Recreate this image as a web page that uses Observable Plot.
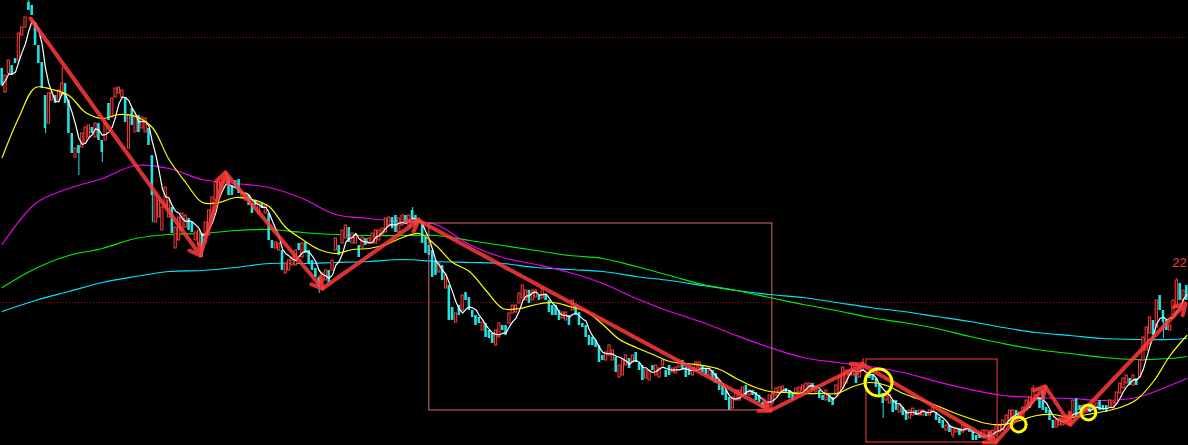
<!DOCTYPE html>
<html><head><meta charset="utf-8">
<script src="https://cdn.jsdelivr.net/npm/d3@7"></script>
<script src="https://cdn.jsdelivr.net/npm/@observablehq/plot@0.6"></script>
<style>html,body{margin:0;padding:0;background:#000;overflow:hidden;}#chart svg{display:block}</style>
</head><body><div id="chart"></div>
<script>
// Daily candles (price units), left to right
const openPrices = [43.2,40.8,42.7,43.5,44.2,44.0,46.5,47.3,49.8,49.5,47.8,45.5,43.8,40.5,37.7,40.0,40.5,40.0,40.5,41.7,
40.0,36.7,34.3,35.5,35.3,35.7,36.3,37.3,36.3,37.7,36.0,36.0,39.7,38.3,40.3,40.7,40.3,40.3,35.2,39.2,
36.8,38.5,37.2,36.8,37.2,34.5,27.8,28.3,27.0,29.3,28.3,29.3,25.2,26.0,27.0,27.3,28.2,27.8,26.0,25.5,
26.7,25.8,26.5,28.3,30.0,30.3,31.3,31.7,32.3,31.5,32.0,32.1,30.2,30.0,30.5,29.7,30.0,28.7,29.7,28.7,
28.7,26.0,25.2,25.0,25.0,22.7,23.0,23.5,23.5,25.7,24.3,25.8,25.0,24.0,23.2,22.3,21.8,22.0,23.0,23.0,
25.0,25.5,25.7,26.2,27.3,25.7,25.7,25.5,25.3,26.2,25.7,25.7,25.7,26.0,26.5,26.8,27.5,28.3,28.5,26.8,
27.5,28.5,27.5,29.0,28.5,27.8,27.7,26.3,25.5,25.0,24.0,22.8,23.5,21.2,21.5,19.3,17.8,19.5,19.0,20.8,
20.3,19.0,18.5,18.3,17.0,17.7,17.0,16.7,15.5,16.3,17.5,17.5,17.7,18.7,18.8,19.7,20.2,20.0,21.0,20.0,
20.3,20.5,20.2,20.5,20.0,19.5,19.5,19.0,18.2,18.0,18.5,19.0,19.5,18.8,17.7,17.5,16.5,16.3,16.0,15.5,
14.5,14.0,14.5,14.0,14.3,12.3,12.5,13.5,14.2,13.8,14.8,13.7,13.5,12.2,12.0,13.5,12.5,12.3,13.5,13.0,
13.5,12.8,12.7,13.3,14.0,13.3,13.2,12.5,13.0,13.2,13.5,13.2,12.5,13.0,12.7,12.0,11.5,11.0,10.3,9.2,
10.0,10.0,10.5,11.5,10.5,11.0,10.8,10.5,9.8,9.0,9.5,9.7,10.5,10.7,10.8,11.2,11.0,10.7,10.5,10.8,
11.0,11.0,11.2,11.7,10.8,11.0,10.5,10.0,10.5,10.3,10.5,10.7,11.3,11.7,12.5,12.5,12.7,12.3,13.0,12.5,
12.8,12.6,12.2,11.7,10.7,10.0,9.7,10.0,10.0,8.8,9.3,9.0,8.2,8.5,9.0,8.5,8.5,8.8,8.5,8.8,
8.8,8.3,8.0,7.0,7.5,6.5,6.8,7.2,6.8,7.0,7.3,7.0,6.5,6.8,6.2,6.5,6.8,6.2,6.5,6.8,
7.0,7.5,8.0,8.2,9.0,8.2,8.3,9.0,9.3,9.7,10.0,10.2,11.0,9.3,9.0,8.0,7.3,7.5,7.5,7.8,
7.5,8.3,10.2,9.5,8.8,8.8,9.5,9.0,9.2,10.0,9.5,9.5,9.3,9.2,9.7,10.7,11.2,11.7,12.2,11.5,
12.2,12.3,14.0,15.0,16.7,18.0,17.3,20.5,19.0,18.0,17.0,18.5,19.3,21.7,20.0,21.5];
const closePrices = [41.5,42.5,44.0,42.5,43.7,46.7,47.3,48.3,49.0,48.5,45.5,43.7,41.2,37.2,40.7,40.8,39.7,41.0,41.7,39.7,
36.7,34.7,35.2,34.7,36.7,37.3,37.5,36.7,37.7,36.0,34.8,37.7,38.0,40.2,41.2,41.3,41.0,37.8,38.5,37.5,
38.5,36.8,38.3,38.2,35.5,30.5,30.7,30.0,29.3,31.3,30.0,26.7,27.3,28.3,28.7,28.5,27.0,26.8,26.8,27.0,
24.8,27.8,29.0,30.3,31.8,31.8,31.8,32.3,30.5,30.5,31.3,30.7,30.7,30.5,29.5,28.7,29.5,29.7,29.2,29.5,
26.0,25.2,25.8,25.7,23.0,23.7,24.0,24.3,25.0,25.0,25.7,24.7,23.7,23.0,22.3,21.3,22.7,23.0,21.8,24.0,
26.2,24.5,27.0,27.5,25.8,26.7,26.5,24.3,26.3,25.5,26.2,26.7,27.0,27.0,27.2,28.2,28.3,27.2,26.8,28.2,
28.5,27.8,28.5,28.2,27.5,28.2,25.7,24.7,24.5,22.3,22.5,23.7,22.0,22.5,18.0,18.0,18.7,18.5,20.5,20.0,
19.0,18.3,17.5,17.7,17.8,16.3,16.2,15.7,17.0,17.7,17.0,16.5,18.7,19.5,19.5,20.7,21.5,21.0,19.7,21.0,
21.0,20.0,21.2,20.0,18.8,18.5,18.5,18.0,18.8,18.8,17.5,20.0,18.5,17.5,17.3,16.3,15.5,15.5,15.3,13.8,
14.0,14.8,15.5,15.0,12.8,13.5,14.0,14.5,13.2,14.5,13.8,13.0,12.0,13.0,13.0,13.0,13.5,13.2,14.0,12.3,
12.5,13.2,13.3,14.0,13.0,12.3,12.5,13.2,13.8,13.8,12.8,12.5,13.0,12.0,11.7,11.0,10.5,10.0,9.0,10.3,
11.0,11.0,11.3,10.5,11.0,10.5,10.0,9.8,9.2,9.7,10.5,10.7,11.2,11.3,11.4,10.8,10.2,10.0,11.2,11.3,
11.5,11.7,11.7,11.0,11.2,10.2,10.0,11.0,9.8,9.5,11.5,12.3,13.3,13.0,13.0,13.5,11.7,13.3,13.8,11.8,
12.2,12.0,11.3,10.5,9.7,10.5,10.5,8.8,9.0,9.5,8.5,8.0,9.0,9.2,8.5,9.0,9.0,8.4,9.0,9.3,
8.0,7.7,7.2,7.5,6.8,7.3,7.2,6.5,7.5,7.5,6.8,6.0,6.0,6.2,7.0,7.0,6.0,7.0,7.5,7.5,
8.0,8.5,9.0,9.0,8.5,8.8,9.3,10.0,10.3,11.2,10.5,9.2,9.0,8.7,8.0,7.2,8.0,8.0,8.2,8.5,
8.5,10.0,8.3,9.0,9.5,9.2,8.8,9.5,9.7,9.0,9.0,8.8,10.0,9.8,10.8,11.7,12.2,12.5,11.5,12.5,
11.5,14.0,16.3,17.3,18.3,16.5,20.0,19.0,17.8,17.0,17.5,20.0,22.0,20.0,21.0,20.0];
// Long shadows that stand out
const wickIdx  = [8, 13, 18, 23, 30, 45, 60, 67, 95, 123, 229, 258, 264, 285, 309, 348, 352];
const wickHigh = [50.0, null, 43.3, null, null, null, null, 32.5, null, 29.3, null, 14.2, null, null, 11.5, null, 22.2];
const wickLow  = [null, 36.7, null, 32.5, 33.8, 27.8, 24.3, null, 20.7, null, 8.7, null, 8.2, 6.2, null, 16.2, null];

// Moving-average lines
const ma10Idx = [0,5,10,15,20,25,30,35,40,45,50,55,60,65,70,75,80,85,90,95,100,105,110,115,120,125,130,135,140,145,150,155,160,165,170,175,180,185,190,195,200,205,210,215,220,225,230,235,240,245,250,255,260,265,270,275,280,285,290,295,300,305,310,315,320,325,330,335,340,345,350,355];
const maYellow = [34.3,38.3,41.3,41.1,40.5,38.8,38.2,38.6,38.4,37.3,34.1,31.8,29.8,29.8,30.3,30.1,29.4,27.3,26.1,25.1,24.7,25.1,25.2,25.6,26.3,26.7,25.5,23.8,22.9,21.0,19.2,19.2,19.6,19.8,19.4,18.9,17.6,16.1,15.3,14.6,13.9,13.7,13.5,13.1,12.2,11.4,10.9,10.8,10.7,10.7,10.7,11.4,11.8,11.5,10.7,10.1,9.5,8.8,8.2,7.7,7.6,8.0,8.5,8.6,8.3,8.6,8.9,9.3,10.1,11.9,14.5,16.5];
const longIdx = [0,10,20,30,40,50,60,70,80,90,100,110,120,130,140,150,160,170,180,190,200,210,220,230,240,250,260,270,280,290,300,310,320,330,340,350,355];
const maMagenta = [25.6,29.7,31.2,32.2,33.5,33.2,32.1,31.7,31.3,30.2,28.6,28.2,27.9,27.6,25.6,24.3,23.6,22.8,21.7,20.2,18.9,17.8,16.5,15.3,14.3,13.8,13.4,12.8,11.9,11.1,10.5,10.3,10.2,10.0,10.3,11.5,12.2];
const maGreen = [21.3,23.2,24.5,25.2,26.2,26.6,26.7,27.0,27.1,26.8,26.6,26.5,26.5,26.5,26.0,25.5,25.0,24.5,24.2,23.4,22.5,21.6,21.0,20.3,19.6,19.0,18.3,17.8,17.2,16.4,15.7,15.1,14.7,14.3,14.1,14.2,14.4];
const maCyan = [18.9,20.0,20.9,21.8,22.4,22.9,23.0,23.3,23.7,23.7,23.8,23.9,24.1,23.9,23.8,23.7,23.3,23.1,22.9,22.4,22.0,21.5,21.0,20.6,20.3,19.8,19.3,18.9,18.4,17.9,17.3,16.8,16.5,16.2,16.1,16.1,16.2];

// Hand-drawn annotations: zig-zag turning points, boxes, circles, price levels
const turnIdx = [8.5, 59.4, 66.9, 96.0, 124.8, 230.2, 257.8, 297.7, 312.6, 320.1, 354.6];
const turnPrice = [48.2, 24.5, 32.8, 21.2, 28.0, 9.0, 13.6, 5.8, 11.4, 7.6, 19.7];
const boxX1 = [128.0, 259.0], boxX2 = [230.8, 298.3], boxTop = [27.7, 14.1], boxBottom = [9.0, 5.8];
const circleIdx = [262.6, 304.6, 325.5], circlePrice = [11.8, 7.6, 8.8];
const levelPrices = [46.3, 19.8];
const highLabel = "22";

const N = closePrices.length;
const candles = closePrices.map((c, i) => {
  const o = openPrices[i];
  const k = wickIdx.indexOf(i);
  let high = Math.max(o, c), low = Math.min(o, c);
  if (k >= 0) {
    if (wickHigh[k] != null) high = wickHigh[k];
    if (wickLow[k] != null) low = wickLow[k];
  }
  return {i, open: o, close: c, high, low, up: c > o};
});
const upC = candles.filter(d => d.up), downC = candles.filter(d => !d.up);
const wicks = candles.filter(d => d.high > Math.max(d.open, d.close) || d.low < Math.min(d.open, d.close));
const yellowPts = ma10Idx.map((i, k) => ({i, v: maYellow[k]}));
const mag = longIdx.map((i, k) => ({i, v: maMagenta[k]}));
const grn = longIdx.map((i, k) => ({i, v: maGreen[k]}));
const cyn = longIdx.map((i, k) => ({i, v: maCyan[k]}));
const segs = turnIdx.slice(1).map((x2, k) => ({x1: turnIdx[k], y1: turnPrice[k], x2, y2: turnPrice[k + 1]}));
const boxes = boxX1.map((x1, k) => ({x1, x2: boxX2[k], y1: boxBottom[k], y2: boxTop[k], k}));
const circles = circleIdx.map((i, k) => ({i, p: circlePrice[k], k}));
const RED = "#ff3b3b", CYAN = "#1fe4e4";

const chart = Plot.plot({
  width: 1188, height: 445, margin: 0,
  style: {background: "#000", overflow: "hidden"},
  x: {type: "linear", domain: [-0.5, N - 0.5], axis: null},
  y: {type: "linear", domain: [5.5, 50], axis: null},
  marks: [
    Plot.ruleY(levelPrices, {stroke: "#a80c0c", strokeDasharray: "1,2"}),
    Plot.line(cyn, {x: "i", y: "v", stroke: "#00e6ff", strokeWidth: 1.2, curve: "catmull-rom"}),
    Plot.line(grn, {x: "i", y: "v", stroke: "#00f000", strokeWidth: 1.2, curve: "catmull-rom"}),
    Plot.line(mag, {x: "i", y: "v", stroke: "#f000f0", strokeWidth: 1.2, curve: "catmull-rom"}),
    Plot.ruleX(wicks, {x: "i", y1: "low", y2: "high", stroke: d => d.up ? RED : CYAN, strokeWidth: 1}),
    Plot.rect(downC, {x1: d => d.i - 0.38, x2: d => d.i + 0.38, y1: "open", y2: "close", fill: CYAN}),
    Plot.rect(upC, {x1: d => d.i - 0.33, x2: d => d.i + 0.33, y1: "open", y2: "close", fill: "#000", stroke: RED, strokeWidth: 1}),
    Plot.lineY(candles, Plot.windowY({k: 5, anchor: "end", reduce: "mean"}, {x: "i", y: "close", stroke: "#ffffff", strokeWidth: 1.2})),
    Plot.line(yellowPts, {x: "i", y: "v", stroke: "#ffff00", strokeWidth: 1.2, curve: "catmull-rom"}),
    Plot.rect(boxes, {x1: "x1", x2: "x2", y1: "y1", y2: "y2", fill: "none", stroke: d => d.k === 0 ? "#e06a6a" : "#ff3c3c", strokeWidth: 1}),
    Plot.arrow(segs, {x1: "x1", y1: "y1", x2: "x2", y2: "y2", stroke: "#ff3a3a", strokeWidth: 4, headLength: 4.5, strokeOpacity: 0.85}),
    Plot.dot(circles.filter(d => d.k === 0), {x: "i", y: "p", r: 13.5, stroke: "#ffff00", strokeWidth: 3, fill: "none"}),
    Plot.dot(circles.filter(d => d.k > 0), {x: "i", y: "p", r: 7.5, stroke: "#ffff00", strokeWidth: 3, fill: "none"}),
    Plot.text([{i: 352, p: 22.2}], {x: "i", y: "p", text: () => highLabel, dx: 10, dy: -16, textAnchor: "end", fill: RED, fontSize: 13, fontFamily: "Liberation Sans, Arial, sans-serif"})
  ]
});
document.getElementById("chart").append(chart);
</script></body></html>
